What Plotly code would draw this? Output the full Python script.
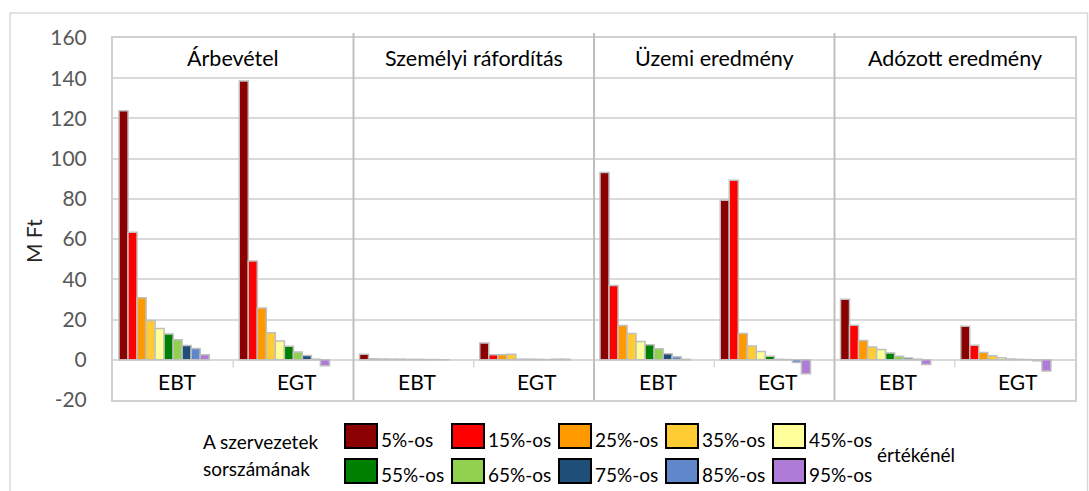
import plotly.graph_objects as go

# ---- data ----
categories = ["Árbevétel", "Személyi ráfordítás", "Üzemi eredmény", "Adózott eredmény"]
subcats = ["EBT", "EGT"]
series_names = ["5%-os", "15%-os", "25%-os", "35%-os", "45%-os",
                "55%-os", "65%-os", "75%-os", "85%-os", "95%-os"]
# values per percentile, order: Árb EBT, Árb EGT, Szem EBT, Szem EGT, Üz EBT, Üz EGT, Adó EBT, Adó EGT
p05 = [123.8, 138.6, 2.8, 8.3, 93.1, 79.3, 30.1, 16.7]
p15 = [63.4, 49.1, 0.5, 2.5, 36.9, 89.3, 17.2, 7.2]
p25 = [30.8, 25.7, 0.4, 2.5, 17.1, 13.1, 9.6, 3.6]
p35 = [19.5, 13.5, 0.3, 2.7, 13.1, 6.8, 6.3, 2.0]
p45 = [15.6, 9.3, 0.3, 0.3, 9.1, 4.1, 5.1, 1.0]
p55 = [12.8, 6.7, 0.2, 0.3, 7.5, 1.8, 3.4, 0.4]
p65 = [9.9, 3.9, 0.2, 0.2, 5.5, 0.2, 1.7, 0.2]
p75 = [7.1, 2.1, 0.1, 0.1, 3.0, 0.1, 0.9, 0.1]
p85 = [5.6, 0.3, 0.1, 0.3, 1.5, -1.3, 0.3, -0.5]
p95 = [2.5, -3.0, 0.0, 0.3, 0.2, -6.9, -2.4, -5.6]
series_values = [p05, p15, p25, p35, p45, p55, p65, p75, p85, p95]
y_ticks = [-20, 0, 20, 40, 60, 80, 100, 120, 140, 160]
y_tick_labels = ["-20", "0", "20", "40", "60", "80", "100", "120", "140", "160"]

# ---- styles ----
colors = ["#8B0000", "#FF0000", "#FF9900", "#FFCC33", "#FFFF99",
          "#008000", "#92D050", "#1F4E79", "#5F87CA", "#AE7BD6"]
FONT = "Lato"
W, H = 1089, 491
ML, MR, MT, MB = 113, 14, 38, 91
PW, PH = W - ML - MR, H - MT - MB
SLOTS = 12
GROUPW = 0.9
slot_w = GROUPW / SLOTS


def fx(px):
    return (px - ML) / PW


def fy(py):
    return (H - MB - py) / PH


n_sub = len(categories) * len(subcats)
xpos = list(range(n_sub))

fig = go.Figure()
for i, (name, vals, col) in enumerate(zip(series_names, series_values, colors)):
    fig.add_trace(go.Bar(
        x=xpos, y=vals, name=name,
        width=slot_w, offset=-GROUPW / 2 + i * slot_w,
        marker=dict(color=col, line=dict(color="#BFBFBF", width=1.5)),
        showlegend=False,
    ))

shapes = []
annotations = []

# category separators (full height) and sub-category ticks
for c in range(1, len(categories)):
    xs = c * len(subcats) - 0.5
    shapes.append(dict(type="line", xref="x", yref="paper", x0=xs, x1=xs,
                       y0=0, y1=1 + 5 / PH, line=dict(color="#BFBFBF", width=2)))
for c in range(len(categories)):
    for s in range(1, len(subcats)):
        xs = c * len(subcats) + s - 0.5
        shapes.append(dict(type="line", xref="x", yref="y", x0=xs, x1=xs,
                           y0=0, y1=-3.8, line=dict(color="#D9D9D9", width=1.5)))

# category headers
for c, cat in enumerate(categories):
    annotations.append(dict(x=c * len(subcats) + (len(subcats) - 1) / 2, y=150,
                            xref="x", yref="y", text=cat, showarrow=False,
                            xanchor="center", yanchor="middle",
                            font=dict(family=FONT, size=21.5, color="#000000")))
# sub-category labels
for k in range(n_sub):
    annotations.append(dict(x=k + 0.03, y=-10.6, xref="x", yref="y",
                            text=subcats[k % len(subcats)], showarrow=False,
                            xanchor="center", yanchor="middle",
                            font=dict(family=FONT, size=21, color="#000000")))

# y axis title
annotations.append(dict(x=fx(34), y=fy(241), xref="paper", yref="paper",
                        xanchor="center", yanchor="middle",
                        text="M Ft", textangle=-90, showarrow=False,
                        font=dict(family=FONT, size=21, color="#262626")))

# outer chart border
shapes.append(dict(type="rect", xref="paper", yref="paper",
                   x0=fx(10), x1=fx(1087.5), y0=fy(495), y1=fy(13),
                   line=dict(color="#D9D9D9", width=1.5), layer="below"))

# custom legend
box_x0, box_dx, box_w, box_h = 345, 107, 32, 24
row_y = [424, 459]
for i, (name, col) in enumerate(zip(series_names, colors)):
    r, c = divmod(i, 5)
    x0 = box_x0 + c * box_dx
    y0 = row_y[r]
    shapes.append(dict(type="rect", xref="paper", yref="paper",
                       x0=fx(x0), x1=fx(x0 + box_w), y0=fy(y0 + box_h), y1=fy(y0),
                       fillcolor=col, line=dict(color="#000000", width=2)))
    annotations.append(dict(x=fx(x0 + box_w + 2), y=fy(y0 + 15), xref="paper", yref="paper",
                            xanchor="left", yanchor="middle", text=name, showarrow=False,
                            font=dict(family=FONT, size=19, color="#000000")))
annotations.append(dict(x=fx(201), y=fy(441), xref="paper", yref="paper",
                        xanchor="left", yanchor="middle", text="A szervezetek",
                        showarrow=False, font=dict(family=FONT, size=19, color="#000000")))
annotations.append(dict(x=fx(201), y=fy(468), xref="paper", yref="paper",
                        xanchor="left", yanchor="middle", text="sorszámának",
                        showarrow=False, font=dict(family=FONT, size=19, color="#000000")))
annotations.append(dict(x=fx(875), y=fy(455), xref="paper", yref="paper",
                        xanchor="left", yanchor="middle", text="értékénél",
                        showarrow=False, font=dict(family=FONT, size=19, color="#000000")))

fig.update_layout(
    width=W, height=H,
    margin=dict(l=ML, r=MR, t=MT, b=MB),
    paper_bgcolor="#FFFFFF", plot_bgcolor="#FFFFFF",
    barmode="overlay",
    showlegend=False,
    shapes=shapes,
    annotations=annotations,
    xaxis=dict(range=[-0.5, n_sub - 0.5], showticklabels=False, ticks="",
               showgrid=False, zeroline=False,
               showline=True, mirror=True, linecolor="#D0D0D0", linewidth=2),
    yaxis=dict(range=[-20, 160], tickvals=y_ticks, ticktext=y_tick_labels,
               showgrid=True, gridcolor="#D9D9D9", gridwidth=1.5,
               zeroline=True, zerolinecolor="#D9D9D9", zerolinewidth=1.5,
               showline=True, mirror=True, linecolor="#D0D0D0", linewidth=2,
               ticks="", ticklabelstandoff=20,
               tickfont=dict(family=FONT, size=21, color="#595959")),
)

fig.write_html("out.html", config={"displayModeBar": False},
               post_script="document.body.style.margin='0';")
